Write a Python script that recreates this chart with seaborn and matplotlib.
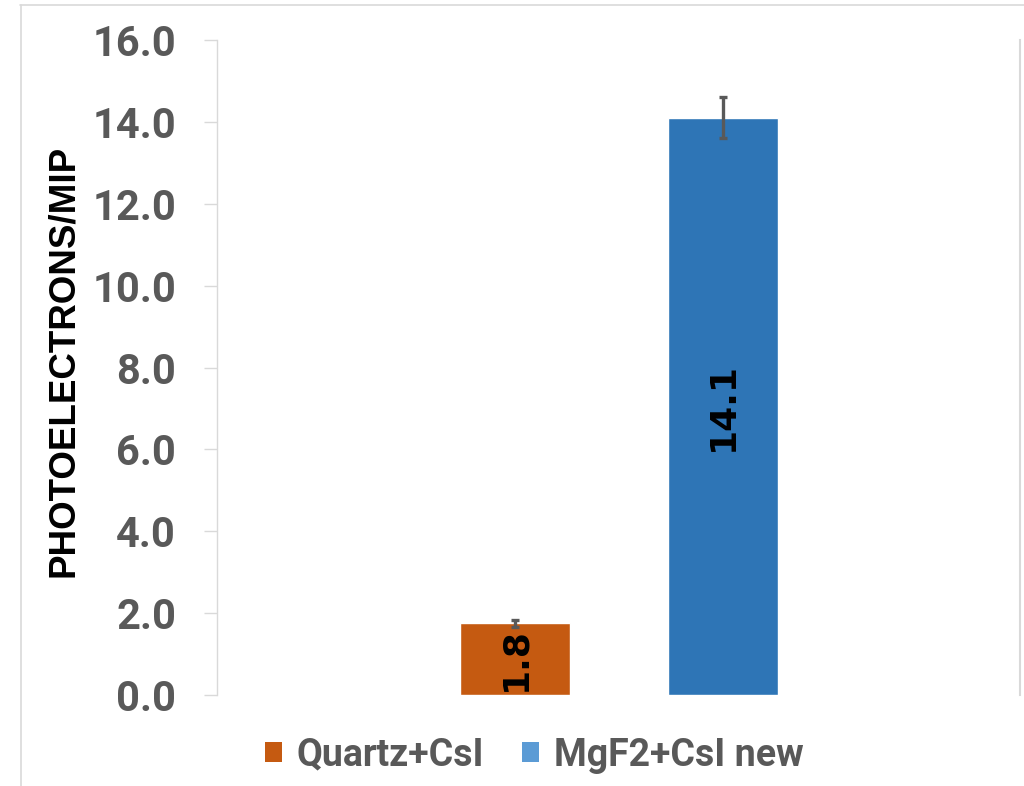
import matplotlib
matplotlib.use("Agg")
import matplotlib.pyplot as plt
import seaborn as sns
import pandas as pd
from matplotlib.lines import Line2D
from matplotlib.patches import Patch

# Data
series = ["Quartz+CsI", "MgF2+CsI new"]
values = [1.75, 14.1]
errors = [0.08, 0.5]
bar_labels = ["1.8", "14.1"]
bar_colors = ["#C55A11", "#2E75B6"]
legend_colors = ["#C55A11", "#5B9BD5"]
yticks = [0, 2, 4, 6, 8, 10, 12, 14, 16]

sns.set_theme(style="white")
plt.rcParams["font.family"] = ["Roboto", "DejaVu Sans"]

fig = plt.figure(figsize=(10.24, 7.86), dpi=100)
ax = fig.add_axes([217 / 1024, 1 - 695 / 786, (1020 - 217) / 1024, (695 - 40) / 786])

df = pd.DataFrame({"series": series, "value": values})
sns.barplot(data=df, x="series", y="value", hue="series", order=series,
            hue_order=series, palette=bar_colors, width=110 / 208,
            dodge=False, legend=False, errorbar=None, saturation=1, ax=ax)

ax.errorbar(range(len(series)), values, yerr=errors, fmt="none",
            ecolor="#595959", elinewidth=2.4, capsize=3, capthick=2.4, zorder=5)

for i, (v, lab) in enumerate(zip(values, bar_labels)):
    ax.text(i, v / 2, lab, rotation=90, ha="center", va="center",
            fontsize=26, fontweight="bold", color="black",
            family=["DejaVu Sans"])

ax.set_xlim(-(515 - 217) / 208, 1 + (1020 - 723) / 208)
ax.set_ylim(0, 16)
ax.set_yticks(yticks)
ax.set_yticklabels([f"{t:.1f}" for t in yticks], fontsize=30,
                   fontweight="bold", color="#595959")
ax.set_xticks([])
ax.set_xlabel("")
ax.set_ylabel("PHOTOELECTRONS/MIP", fontsize=26.5, fontweight="bold",
              color="black", family=["Liberation Sans"])
ax.yaxis.set_label_coords(-(217 - 81) / 803, 0.51)
ax.tick_params(axis="y", which="major", direction="out", length=9.5,
               width=1, color="#D9D9D9", pad=20, left=True)
for s in ["top", "bottom"]:
    ax.spines[s].set_visible(False)
ax.spines["left"].set_color("#D9D9D9")
ax.spines["left"].set_linewidth(1)
ax.spines["right"].set_color("#D9D9D9")
ax.spines["right"].set_linewidth(1.5)

# chart frame (cropped border)
fig.add_artist(Line2D([20 / 1024, 1], [1 - 5 / 786, 1 - 5 / 786],
                      transform=fig.transFigure, color="#D9D9D9", lw=1.2))
fig.add_artist(Line2D([21 / 1024, 21 / 1024], [0, 1 - 5 / 786],
                      transform=fig.transFigure, color="#D9D9D9", lw=1.2))

handles = [Patch(facecolor=c, edgecolor="none") for c in legend_colors]
leg = fig.legend(handles, series, loc="center", bbox_to_anchor=(534 / 1024, 1 - 755 / 786),
                 ncol=2, frameon=False, handlelength=0.45, handleheight=0.45,
                 handletextpad=0.4, columnspacing=1.0,
                 prop={"family": "Roboto", "weight": "bold", "size": 27})
for t in leg.get_texts():
    t.set_color("#595959")

fig.savefig("out.png", dpi=100, facecolor="white")
